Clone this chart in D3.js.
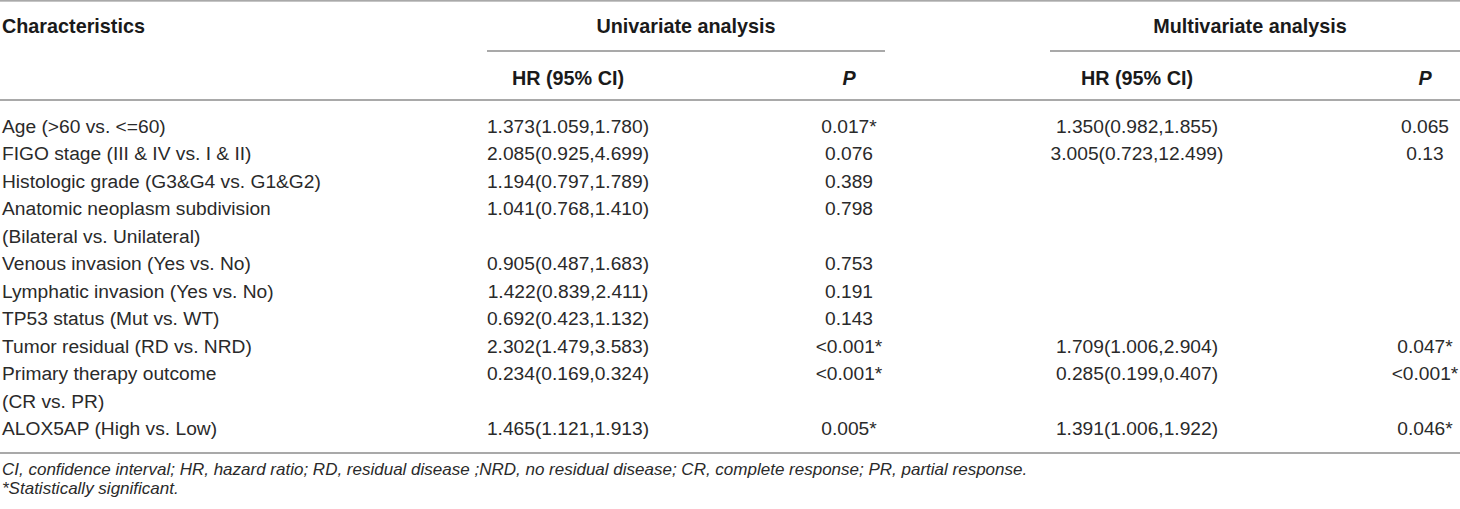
<!DOCTYPE html>
<html>
<head>
<meta charset="utf-8">
<script src="https://cdn.jsdelivr.net/npm/d3@7"></script>
<style>
  html, body { margin: 0; padding: 0; background: #fff; }
  svg { display: block; }
  text { font-family: "Liberation Sans", Arial, Helvetica, sans-serif; fill: #2a2a2a; }
  text.bold { fill: #1a1a1a; }
</style>
</head>
<body>
<svg id="chart" width="1460" height="509"></svg>
<script>
// ---------- data ----------
const characteristics = [
  ["Age (>60 vs. <=60)"],
  ["FIGO stage (III & IV vs. I & II)"],
  ["Histologic grade (G3&G4 vs. G1&G2)"],
  ["Anatomic neoplasm subdivision", "(Bilateral vs. Unilateral)"],
  ["Venous invasion (Yes vs. No)"],
  ["Lymphatic invasion (Yes vs. No)"],
  ["TP53 status (Mut vs. WT)"],
  ["Tumor residual (RD vs. NRD)"],
  ["Primary therapy outcome", "(CR vs. PR)"],
  ["ALOX5AP (High vs. Low)"]
];
const uniHR = ["1.373(1.059,1.780)", "2.085(0.925,4.699)", "1.194(0.797,1.789)", "1.041(0.768,1.410)",
  "0.905(0.487,1.683)", "1.422(0.839,2.411)", "0.692(0.423,1.132)", "2.302(1.479,3.583)",
  "0.234(0.169,0.324)", "1.465(1.121,1.913)"];
const uniP = ["0.017*", "0.076", "0.389", "0.798", "0.753", "0.191", "0.143", "<0.001*", "<0.001*", "0.005*"];
const multiHR = ["1.350(0.982,1.855)", "3.005(0.723,12.499)", "", "", "", "", "", "1.709(1.006,2.904)",
  "0.285(0.199,0.407)", "1.391(1.006,1.922)"];
const multiP = ["0.065", "0.13", "", "", "", "", "", "0.047*", "<0.001*", "0.046*"];
const groupHeaders = ["Univariate analysis", "Multivariate analysis"];
const subHeaders = ["HR (95% CI)", "P"];
const footnotes = [
  "CI, confidence interval; HR, hazard ratio; RD, residual disease ;NRD, no residual disease; CR, complete response; PR, partial response.",
  "*Statistically significant."
];

// ---------- layout ----------
const W = 1460;
const FS = 19.2;
const HFS = 19.8;
const svg = d3.select("#chart");

const startLine = [];
characteristics.reduce((acc, c) => { startLine.push(acc); return acc + c.length; }, 0);
const nLines = d3.sum(characteristics, c => c.length);

const y = d3.scaleLinear().domain([0, nLines - 1]).range([126, 428.5]);
const col = d3.scaleOrdinal()
  .domain(["uniHR", "uniP", "multiHR", "multiP"])
  .range([568, 849, 1137, 1425]);
const base = (c, fs) => c + (fs || FS) * 0.35;

// rules
const rule = (x1, x2, yy, w) => svg.append("line")
  .attr("x1", x1).attr("x2", x2).attr("y1", yy).attr("y2", yy)
  .attr("stroke", "#8c8c8c").attr("stroke-width", w || 1.3);
rule(0, W, 0.8);
rule(487, 885, 51);
rule(1050, W, 51);
rule(0, W, 100);
rule(0, W, 453);

// headers
svg.append("text").attr("class", "bold").attr("x", 2).attr("y", base(26, HFS))
  .attr("font-size", HFS).attr("font-weight", "bold").text("Characteristics");
svg.selectAll("text.group").data(groupHeaders).enter().append("text")
  .attr("class", "group bold")
  .attr("x", (d, i) => i === 0 ? 686 : 1250)
  .attr("y", base(26, HFS)).attr("text-anchor", "middle")
  .attr("font-size", HFS).attr("font-weight", "bold").text(d => d);
const subCols = [["uniHR", subHeaders[0]], ["uniP", subHeaders[1]], ["multiHR", subHeaders[0]], ["multiP", subHeaders[1]]];
svg.selectAll("text.sub").data(subCols).enter().append("text")
  .attr("class", "sub bold")
  .attr("x", d => col(d[0]))
  .attr("y", base(78, HFS)).attr("text-anchor", "middle")
  .attr("font-size", HFS).attr("font-weight", "bold")
  .attr("font-style", d => d[1] === "P" ? "italic" : "normal")
  .text(d => d[1]);

// characteristic labels
const labelLines = [];
characteristics.forEach((c, i) => c.forEach((t, j) => labelLines.push({ t, line: startLine[i] + j })));
svg.selectAll("text.lab").data(labelLines).enter().append("text")
  .attr("class", "lab")
  .attr("x", 2).attr("y", d => base(y(d.line)))
  .attr("font-size", FS).text(d => d.t);

// value columns
const cols = [["uniHR", uniHR], ["uniP", uniP], ["multiHR", multiHR], ["multiP", multiP]];
cols.forEach(([key, arr]) => {
  svg.selectAll("text." + key).data(arr).enter().append("text")
    .attr("class", key)
    .attr("x", col(key))
    .attr("y", (d, i) => base(y(startLine[i])))
    .attr("text-anchor", "middle")
    .attr("font-size", FS).text(d => d);
});

// footnotes
svg.selectAll("text.foot").data(footnotes).enter().append("text")
  .attr("class", "foot")
  .attr("x", 2).attr("y", (d, i) => base(469.5 + i * 19, 17))
  .attr("font-size", 17).attr("font-style", "italic").text(d => d);
</script>
</body>
</html>
